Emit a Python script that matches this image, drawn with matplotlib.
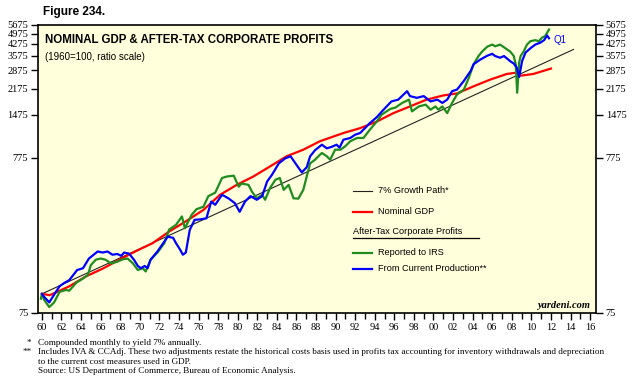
#!/usr/bin/env python3

import matplotlib
matplotlib.use("Agg")
import matplotlib.pyplot as plt
from matplotlib.ticker import FixedLocator, NullLocator

# 7% growth path (straight line on ratio scale, 1960=100)
growth_years = [1960.0, 2014.3]
growth_values = [100, 3930]

# Nominal GDP (1960=100)
gdp_years = [1960.0, 1960.8, 1962.8, 1964.5, 1966.2, 1967.9, 1969.6, 1971.3, 1973.0,
             1974.8, 1976.5, 1978.2, 1979.9, 1981.6, 1983.3, 1985.0, 1986.7, 1988.4,
             1990.8, 1992.5, 1994.2, 1995.9, 1997.6, 1999.3, 2001.0, 2002.4, 2004.1,
             2005.8, 2007.5, 2008.4, 2008.9, 2010.2, 2012.0]
gdp_values = [100, 98, 112, 130, 146, 167, 190, 214, 255,
              300, 353, 443, 514, 583, 678, 790, 872, 990,
              1120, 1205, 1330, 1510, 1670, 1850, 1970, 2030, 2260,
              2500, 2720, 2770, 2650, 2720, 2950]

# After-tax corporate profits, reported to IRS
irs_years = [1959.9, 1960.0, 1960.25, 1960.75, 1961.25, 1961.8, 1962.45, 1962.8, 1963.5,
             1964.2, 1964.7, 1965.0, 1965.5, 1966.0, 1966.5, 1967.05, 1967.7, 1968.25,
             1968.75, 1969.3, 1969.8, 1970.3, 1970.6, 1971.1, 1971.8, 1972.5, 1973.0,
             1973.7, 1974.3, 1974.6, 1975.3, 1975.8, 1976.5, 1977.0, 1977.7, 1978.4,
             1978.9, 1979.6, 1980.1, 1980.4, 1981.1, 1981.45, 1981.95, 1982.5, 1982.8,
             1983.3, 1983.85, 1984.3, 1984.7, 1985.2, 1985.7, 1986.2, 1986.7, 1987.05,
             1987.4, 1987.9, 1988.4, 1988.6, 1989.1, 1989.45, 1989.95, 1990.5, 1991.0,
             1991.5, 1992.2, 1992.85, 1993.5, 1994.2, 1994.7, 1995.6, 1996.1, 1996.8,
             1997.5, 1997.8, 1998.5, 1999.2, 1999.7, 2000.2, 2000.5, 2000.9, 2001.4,
             2001.9, 2002.4, 2003.1, 2003.6, 2004.1, 2004.6, 2004.95, 2005.5, 2006.0,
             2006.3, 2006.8, 2007.35, 2007.85, 2008.2, 2008.4, 2008.55, 2008.75, 2008.9,
             2009.2, 2009.55, 2009.9, 2010.4, 2010.75, 2011.1, 2011.4, 2011.8]
irs_values = [93, 100, 91, 82, 88, 103, 106, 105, 118,
              126, 133, 154, 167, 170, 167, 158, 162, 168,
              170, 158, 143, 147, 140, 167, 186, 214, 263,
              282, 320, 268, 328, 357, 370, 434, 457, 570,
              583, 590, 500, 525, 514, 465, 420, 443, 411,
              490, 555, 570, 477, 514, 420, 418, 477, 583,
              710, 750, 808, 830, 790, 750, 872, 872, 920,
              990, 1040, 1040, 1177, 1330, 1476, 1610, 1640, 1760,
              1850, 1550, 1670, 1715, 1590, 1670, 1590, 1670, 1510,
              1760, 2000, 2150, 2560, 3150, 3560, 3800, 4100, 4230,
              4120, 4230, 4000, 3800, 3560, 3150, 2050, 3230, 3560,
              3800, 4230, 4450, 4520, 4450, 4700, 4800, 5300]

# After-tax corporate profits from current production
cp_years = [1960.0, 1960.2, 1960.75, 1961.3, 1961.8, 1962.3, 1962.8, 1963.6, 1964.2,
            1964.8, 1965.7, 1966.2, 1966.7, 1967.2, 1967.7, 1968.1, 1968.4, 1968.9,
            1969.4, 1969.8, 1970.1, 1970.5, 1970.8, 1971.1, 1971.8, 1972.5, 1972.85,
            1973.4, 1973.7, 1974.1, 1974.4, 1974.7, 1975.1, 1975.6, 1976.15, 1976.8,
            1977.3, 1977.7, 1978.4, 1979.05, 1979.7, 1980.2, 1980.75, 1981.3, 1981.95,
            1982.5, 1983.0, 1983.5, 1984.2, 1984.85, 1985.4, 1986.0, 1986.55, 1987.05,
            1987.4, 1987.9, 1988.6, 1989.1, 1989.6, 1990.1, 1990.4, 1990.8, 1991.5,
            1992.0, 1992.5, 1993.0, 1993.5, 1994.2, 1994.9, 1995.7, 1996.4, 1997.3,
            1997.6, 1998.3, 1999.0, 1999.7, 2000.4, 2000.9, 2001.4, 2001.9, 2002.4,
            2003.1, 2003.8, 2004.1, 2004.8, 2005.5, 2006.0, 2006.3, 2006.8, 2007.2,
            2007.85, 2008.2, 2008.5, 2008.75, 2009.05, 2009.4, 2009.9, 2010.4, 2010.9,
            2011.3, 2011.6, 2011.8]
cp_values = [100, 96, 88, 100, 112, 118, 123, 143, 147,
             170, 189, 186, 189, 180, 182, 177, 186, 183,
             167, 152, 147, 152, 147, 167, 189, 219, 236,
             232, 214, 195, 180, 186, 261, 304, 306, 311,
             400, 381, 443, 420, 391, 343, 400, 434, 411,
             434, 540, 598, 710, 765, 790, 695, 620, 670,
             790, 865, 940, 890, 910, 940, 900, 1013, 1040,
             1092, 1120, 1205, 1300, 1420, 1591, 1800, 1850, 2100,
             1950, 1900, 1950, 1800, 1850, 1760, 1850, 2100, 2150,
             2450, 2850, 3150, 3380, 3580, 3680, 3560, 3470, 3560,
             3290, 3180, 3000, 2600, 3300, 3750, 4000, 4230, 4350,
             4520, 4850, 4650]

y_ticks = [75, 775, 1475, 2175, 2875, 3575, 4275, 4975, 5675]
x_major = list(range(1960, 2017, 2))
x_labels = [f"{y % 100:02d}" for y in x_major]

RED = "#ff0000"
GREEN = "#1e8c1e"
BLUE = "#0000ff"
SERIF = "Liberation Serif"
SANS = "Liberation Sans"

fig = plt.figure(figsize=(6.36, 3.78), dpi=100)
ax = fig.add_axes([38 / 636, 1 - 313 / 378, (596 - 38) / 636, (313 - 25) / 378])
ax.set_facecolor("#ffffdc")

ax.plot(growth_years, growth_values, color="#222222", lw=0.8, zorder=2)
ax.plot(gdp_years, gdp_values, color=RED, lw=1.6, zorder=3)
ax.plot(irs_years, irs_values, color=GREEN, lw=1.6, zorder=4)
ax.plot(cp_years, cp_values, color=BLUE, lw=1.6, zorder=5)

ax.set_yscale("log")
ax.set_ylim(75, 5675)
ax.set_xlim(1959.6, 2016.6)
ax.yaxis.set_major_locator(FixedLocator(y_ticks))
ax.yaxis.set_minor_locator(NullLocator())
ax.set_yticklabels([str(v) for v in y_ticks])
ax.xaxis.set_major_locator(FixedLocator(x_major))
ax.xaxis.set_minor_locator(FixedLocator(list(range(1961, 2017, 2))))
ax.set_xticklabels(x_labels)

ax.tick_params(axis="y", which="both", direction="out", length=5, width=1,
               left=True, right=True, labelleft=True, labelright=True,
               labelsize=7.5, pad=2)
ax.tick_params(axis="x", which="major", direction="out", length=5, width=1,
               labelsize=7.5, pad=2)
ax.tick_params(axis="x", which="minor", direction="out", length=4, width=1)
for lab in ax.get_xticklabels() + ax.get_yticklabels():
    lab.set_fontfamily(SERIF)
for side in ["top", "bottom", "left", "right"]:
    ax.spines[side].set_linewidth(1.2)
    ax.spines[side].set_color("black")

# Titles
fig.text(43 / 636, 1 - 12 / 378, "Figure 234.", fontsize=8.5, fontweight="bold",
         family=SANS, va="center", ha="left")
ax.text(0.012, 0.97, "NOMINAL GDP & AFTER-TAX CORPORATE PROFITS", transform=ax.transAxes,
        fontsize=8.3, fontweight="bold", family=SANS, va="top", ha="left")
ax.text(0.012, 0.905, "(1960=100, ratio scale)", transform=ax.transAxes,
        fontsize=7, family=SANS, va="top", ha="left")

# Legend drawn by hand
def fx(px):
    return (px - 38) / (596 - 38)

def fy(py):
    return 1 - (py - 25) / (313 - 25)

legend_rows = [
    (190.5, "7% Growth Path*", "#222222", 0.8),
    (212, "Nominal GDP", RED, 1.6),
    (252.5, "Reported to IRS", GREEN, 1.6),
    (268.5, "From Current Production**", BLUE, 1.6),
]
for py, label, col, lw in legend_rows:
    ax.plot([fx(353), fx(372)], [fy(py), fy(py)], transform=ax.transAxes,
            color=col, lw=lw, clip_on=False, zorder=6)
    ax.text(fx(378), fy(py), label, transform=ax.transAxes, fontsize=6.6,
            family=SANS, va="center", ha="left")
ax.text(fx(353), fy(232), "After-Tax Corporate Profits", transform=ax.transAxes,
        fontsize=6.6, family=SANS, va="center", ha="left")
ax.plot([fx(353), fx(479)], [fy(238), fy(238)], transform=ax.transAxes,
        color="black", lw=0.9, zorder=6)

ax.text(fx(553), fy(40), "Q1", transform=ax.transAxes, fontsize=7,
        family=SANS, color=BLUE, va="center", ha="left")
ax.text(fx(590), fy(305), "yardeni.com", transform=ax.transAxes, fontsize=7.5,
        family=SERIF, style="italic", fontweight="bold", va="center", ha="right")

# Footnotes
notes = [
    (27, 343, "*"),
    (38, 343, "Compounded monthly to yield 7% annually."),
    (23, 352, "**"),
    (38, 352, "Includes IVA & CCAdj. These two adjustments restate the historical costs basis used in "
              "profits tax accounting for inventory withdrawals and depreciation"),
    (38, 362, "to the current cost measures used in GDP."),
    (38, 371, "Source: US Department of Commerce, Bureau of Economic Analysis."),
]
for px, py, txt in notes:
    fig.text(px / 636, 1 - py / 378, txt, fontsize=6.6, family=SERIF,
             va="center", ha="left")

fig.savefig("out.png", dpi=100)
